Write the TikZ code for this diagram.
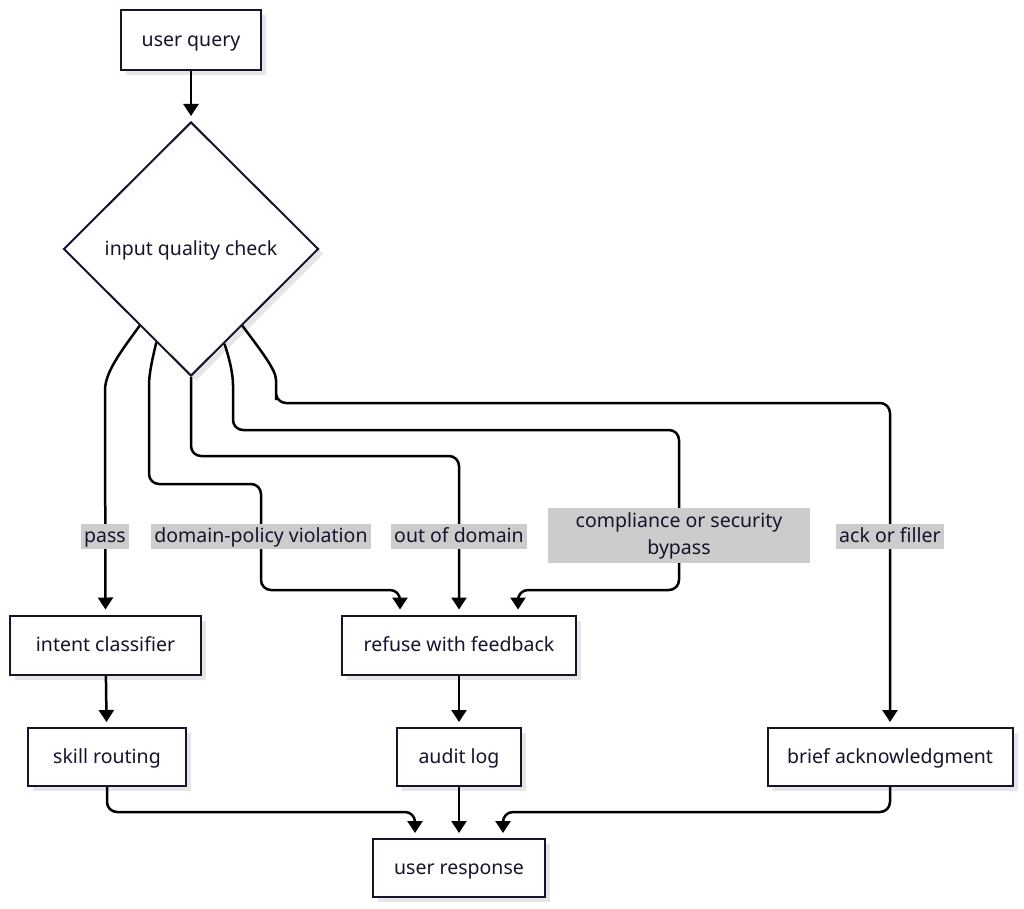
\documentclass[tikz,border=0pt]{standalone}
\usepackage{fontspec}
\setmainfont{Noto Sans}
\usetikzlibrary{arrows.meta,calc,shapes.geometric,shadows}
\definecolor{ink}{RGB}{20,20,44}
\definecolor{labelgray}{RGB}{204,204,204}
\definecolor{shade}{RGB}{230,230,230}

\begin{document}
\begin{tikzpicture}[
      x=1pt, y=-1pt,
      font=\fontsize{19.5}{27}\selectfont,
      oneline/.style={text height=15pt, text depth=2pt},
      box/.style={oneline, draw=ink, line width=2pt, fill=white, text=ink, inner sep=0pt,
        drop shadow={shadow xshift=5pt, shadow yshift=-5pt, fill=shade, opacity=1}},
      check/.style={box, diamond, minimum width=255pt, minimum height=254pt},
      flow/.style={draw=black, line width=2.5pt, rounded corners=10pt, shorten >=5pt,
        -{Triangle[length=12pt,width=15pt]}},
      tag/.style={fill=labelgray, text=ink, inner xsep=3pt, inner ysep=0pt,
        minimum height=25pt, align=center}
    ]
    \useasboundingbox (0,0) rectangle (1024,909);
    \node[box, minimum width=140pt, minimum height=60pt] (query) at (191,40) {user query};
    \node[check] (check) at (191,249) {input quality check};
    \node[box, minimum width=191pt, minimum height=59pt] (intent) at (105.5,645) {intent classifier};
    \node[box, minimum width=234pt, minimum height=59pt] (refuse) at (459,645) {refuse with feedback};
    \node[box, minimum width=158pt, minimum height=58pt] (skill) at (107,757) {skill routing};
    \node[box, minimum width=124pt, minimum height=58pt] (audit) at (459,757) {audit log};
    \node[box, minimum width=245pt, minimum height=58pt] (brief) at (890,757) {brief acknowledgment};
    \node[box, minimum width=172pt, minimum height=58pt] (response) at (459,868) {user response};

    \draw[flow] (query) -- (check);
    \draw[flow] ($(check.south)!0.4!(check.west)$) .. controls (122,350) and (105,372) .. (105,400)
      -- (intent.north);
    \draw[flow] ($(check.south)!0.27!(check.west)$) .. controls (152,360) and (149,375) .. (149,395)
      -- (149,484) -- (261,484) -- (261,590) -- (400,590) -- ([xshift=-59pt]refuse.north);
    \draw[flow] (check.south) -- (191,456) -- (459,456) -- (refuse.north);
    \draw[flow] ($(check.south)!0.26!(check.east)$) .. controls (230,360) and (233,375) .. (233,395)
      -- (233,430) -- (679,430) -- (679,590) -- (518,590) -- ([xshift=59pt]refuse.north);
    \draw[flow] ($(check.south)!0.4!(check.east)$) .. controls (262,352) and (276,370) .. (276,390)
      -- (276,403) -- (brief.north |- 0,403) -- (brief.north);
    \draw[flow] (intent) -- (skill);
    \draw[flow] (refuse) -- (audit);
    \draw[flow] (skill.south) -- (skill.south |- 0,812) -- (415,812) -- ([xshift=-44pt]response.north);
    \draw[flow] (audit) -- (response);
    \draw[flow] (brief.south) -- (brief.south |- 0,812) -- (503,812) -- ([xshift=44pt]response.north);

    \node[tag, oneline] (passtag) at (105,536) {pass};
    \node[tag, oneline] (policytag) at (261,536) {domain-policy violation};
    \node[tag, oneline] (domaintag) at (459,536) {out of domain};
    \node[tag, minimum width=262pt, minimum height=55pt] (bypasstag) at (679,535.5)
      {\raisebox{-4pt}{compliance or security}\\\raisebox{-4pt}{bypass}};
    \node[tag, oneline] (acktag) at (890,536) {ack or filler};
  \end{tikzpicture}
\end{document}
